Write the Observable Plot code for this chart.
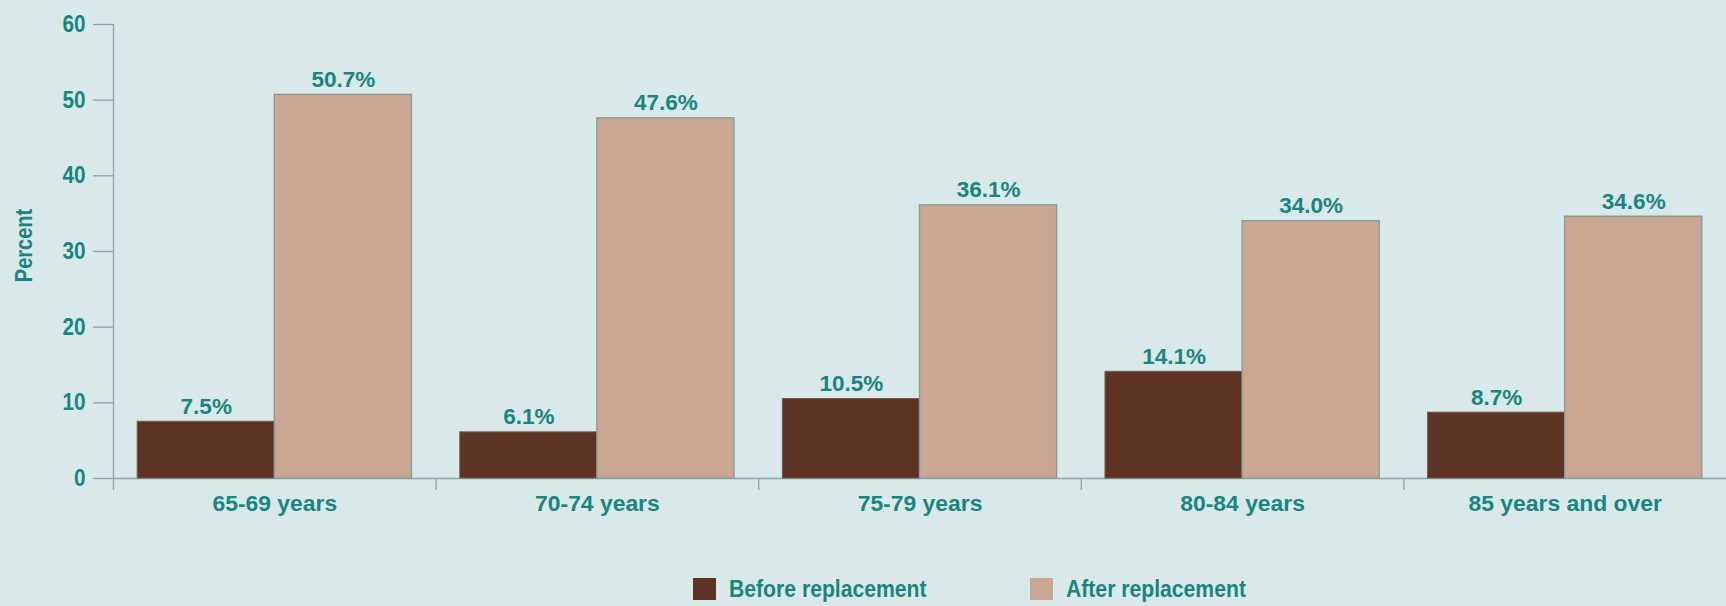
<!DOCTYPE html>
<html>
<head>
<meta charset="utf-8">
<script src="https://cdn.jsdelivr.net/npm/d3@7"></script>
<script src="https://cdn.jsdelivr.net/npm/@observablehq/plot@0.6"></script>
<style>
  html, body { margin: 0; padding: 0; background: #d9e9ea; }
  #chart { width: 1726px; height: 606px; overflow: hidden; position: relative; }
  .legend-item { position: absolute; top: 578px; height: 22px; display: flex; align-items: center;
                 font-family: "Liberation Sans", Arial, sans-serif; font-weight: bold; font-size: 23px; color: #188581; }
  .legend-item .sw { width: 23px; height: 22px; display: inline-block; margin-right: 13px; flex: none; }
  .legend-item .lab { display: inline-block; transform: scaleX(0.92); transform-origin: left center; white-space: nowrap; }
</style>
</head>
<body>
<div id="chart"></div>
<script>
const categories = ["65-69 years", "70-74 years", "75-79 years", "80-84 years", "85 years and over"];
const series = ["Before replacement", "After replacement"];
const beforeValues = [7.5, 6.1, 10.5, 14.1, 8.7];
const afterValues = [50.7, 47.6, 36.1, 34.0, 34.6];
const yTicks = [0, 10, 20, 30, 40, 50, 60];
const seriesColors = ["#5d3324", "#c9a792"];

const teal = "#188581";
const axisColor = "#8aa7a7";
const font = "'Liberation Sans', Arial, sans-serif";

const W = 1726, H = 545, ML = 113, MR = 0, MT = 24, MB = 67;
const bw = (W - ML - MR) / categories.length;

const rows = [];
categories.forEach((c, i) => {
  rows.push({category: c, series: series[0], value: beforeValues[i]});
  rows.push({category: c, series: series[1], value: afterValues[i]});
});
const before = rows.filter(d => d.series === series[0]);
const after = rows.filter(d => d.series === series[1]);

// group layout within each category band (fractions of the band)
const outer = 0.075, half = 0.5, barFrac = 0.425;
const labelShift = (half - outer - barFrac / 2) * bw;

const chart = Plot.plot({
  width: W, height: H,
  marginLeft: ML, marginRight: MR, marginTop: MT, marginBottom: MB,
  style: {background: "transparent", fontFamily: font},
  x: {type: "band", domain: categories, padding: 0, round: false, label: null},
  y: {domain: [0, 60], label: null},
  color: {domain: series, range: seriesColors},
  marks: [
    Plot.ruleY([0], {stroke: axisColor, strokeWidth: 1.3}),
    Plot.ruleX([categories[0]], {x: d => d, dx: -bw / 2, y1: 0, y2: 60, stroke: axisColor, strokeWidth: 1.3}),
    Plot.axisX({tickSize: 12, dx: -bw / 2, tickFormat: () => "", stroke: axisColor, strokeWidth: 1.3, label: null}),
    Plot.axisX({tickSize: 0, tickPadding: 17, fontSize: 22, fontWeight: "bold", fill: teal, fontFamily: font, label: null}),
    Plot.axisY({ticks: yTicks, tickSize: 20, tickPadding: 8, stroke: axisColor, strokeWidth: 1.3, fill: teal, fontSize: 23, fontWeight: "bold", fontFamily: font, label: null}),
    Plot.text(["Percent"], {frameAnchor: "left", textAnchor: "middle", dx: -89, dy: -6, rotate: -90, fontSize: 23, fontWeight: "bold", fill: teal, fontFamily: font}),
    Plot.barY(before, {x: "category", y: "value", fill: "series", insetLeft: outer * bw, insetRight: half * bw, stroke: "#6e5a50", strokeWidth: 1}),
    Plot.barY(after, {x: "category", y: "value", fill: "series", insetLeft: half * bw, insetRight: outer * bw, stroke: "#8a9b97", strokeWidth: 1.4}),
    Plot.text(before, {x: "category", y: "value", text: d => d.value.toFixed(1) + "%", dx: -labelShift, lineAnchor: "bottom", dy: -8, fill: teal, fontSize: 22.5, fontWeight: "bold", fontFamily: font}),
    Plot.text(after, {x: "category", y: "value", text: d => d.value.toFixed(1) + "%", dx: labelShift, lineAnchor: "bottom", dy: -8, fill: teal, fontSize: 22.5, fontWeight: "bold", fontFamily: font})
  ]
});
document.getElementById("chart").appendChild(chart);

// condensed / tracked look of the original typeface
function fitWidth(t, k) {
  const len = t.getComputedTextLength();
  if (len > 0) { t.setAttribute("textLength", len * k); t.setAttribute("lengthAdjust", "spacingAndGlyphs"); }
}
chart.querySelectorAll("text").forEach(t => {
  const s = t.textContent;
  if (s === "Percent") fitWidth(t, 0.87);
  else if (/^\d+$/.test(s)) fitWidth(t, 0.9);
  else if (categories.includes(s)) fitWidth(t, 1.04);
});

const legendLeft = [693, 1030];
series.forEach((s, i) => {
  const item = document.createElement("div");
  item.className = "legend-item";
  item.style.left = legendLeft[i] + "px";
  const sw = document.createElement("span");
  sw.className = "sw";
  sw.style.background = seriesColors[i];
  const lab = document.createElement("span");
  lab.className = "lab";
  lab.textContent = s;
  item.appendChild(sw); item.appendChild(lab);
  document.getElementById("chart").appendChild(item);
});
</script>
</body>
</html>
